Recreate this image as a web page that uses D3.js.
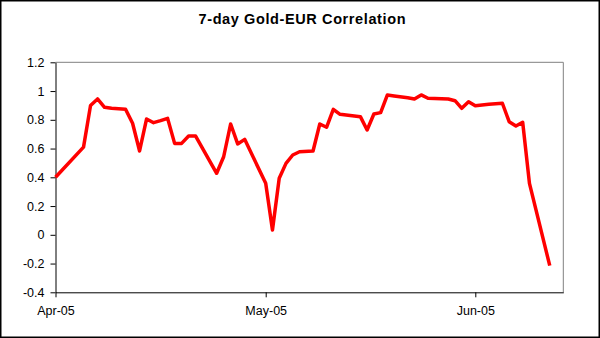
<!DOCTYPE html>
<html><head><meta charset="utf-8">
<script src="https://cdn.jsdelivr.net/npm/d3@7"></script>
<style>
html,body{margin:0;padding:0;background:#fff;}
svg{display:block;}
text{font-family:"Liberation Sans",Arial,sans-serif;}
</style></head>
<body>
<script>
const title = "7-day Gold-EUR Correlation";
const dates = ["2005-04-01","2005-04-05","2005-04-06","2005-04-07","2005-04-08","2005-04-09","2005-04-11","2005-04-12","2005-04-13","2005-04-14","2005-04-15","2005-04-16","2005-04-17","2005-04-18","2005-04-19","2005-04-20","2005-04-21","2005-04-24","2005-04-25","2005-04-26","2005-04-27","2005-04-28","2005-05-01","2005-05-02","2005-05-03","2005-05-04","2005-05-05","2005-05-06","2005-05-08","2005-05-09","2005-05-10","2005-05-11","2005-05-12","2005-05-15","2005-05-16","2005-05-17","2005-05-18","2005-05-19","2005-05-20","2005-05-22","2005-05-23","2005-05-24","2005-05-25","2005-05-28","2005-05-29","2005-05-30","2005-05-31","2005-06-01","2005-06-03","2005-06-05","2005-06-06","2005-06-07","2005-06-08","2005-06-09","2005-06-12"];
const values = [0.40,0.61,0.90,0.945,0.887,0.88,0.873,0.776,0.583,0.806,0.78,0.794,0.81,0.636,0.636,0.687,0.687,0.428,0.543,0.771,0.632,0.664,0.358,0.033,0.393,0.497,0.555,0.578,0.583,0.771,0.748,0.873,0.838,0.822,0.729,0.84,0.85,0.973,0.966,0.954,0.945,0.973,0.95,0.945,0.933,0.88,0.926,0.898,0.908,0.915,0.787,0.757,0.783,0.358,-0.215];
const yTicks = [1.2,1,0.8,0.6,0.4,0.2,0,-0.2,-0.4];
const yTickLabels = ["1.2","1","0.8","0.6","0.4","0.2","0","-0.2","-0.4"];
const xTickDates = ["2005-04-01","2005-05-01","2005-06-01"];
const xTickLabels = ["Apr-05","May-05","Jun-05"];
const xDomainDates = ["2005-04-01","2005-05-01","2005-06-01","2005-06-14"];

const W = 600, H = 338;
const m = {left:55.5, top:62.3, right:563.3, bottom:292.3};
const parse = d3.utcParse("%Y-%m-%d");
const svg = d3.select("body").append("svg").attr("width",W).attr("height",H);

svg.append("rect").attr("x",0.75).attr("y",0.75).attr("width",W-1.5).attr("height",H-1.5)
  .attr("fill","#fff").attr("stroke","#000").attr("stroke-width",1.5);

const x = d3.scaleUtc()
  .domain(xDomainDates.map(parse))
  .range([m.left, m.left + 210.2, m.left + 419.8, m.right]);
const y = d3.scaleLinear().domain([-0.4,1.2]).range([m.bottom, m.top]);

svg.append("path")
  .attr("d", `M${m.left},${m.top}H${m.right}V${m.bottom}`)
  .attr("fill","none").attr("stroke","#808080").attr("stroke-width",1);

const yAxis = d3.axisLeft(y).tickValues(yTicks).tickSize(5).tickSizeOuter(0).tickPadding(6)
  .tickFormat((d,i)=>yTickLabels[i]);
const gy = svg.append("g").attr("transform",`translate(${m.left},0)`).call(yAxis);
gy.select(".domain").attr("stroke","#000");
gy.selectAll(".tick line").attr("stroke","#000");
gy.selectAll("text").attr("font-size",12.5).attr("fill","#000")
  .attr("font-family","'Liberation Sans',Arial,sans-serif");

const xAxis = d3.axisBottom(x).tickValues(xTickDates.map(parse)).tickSize(5).tickSizeOuter(0).tickPadding(9)
  .tickFormat((d,i)=>xTickLabels[i]);
const gx = svg.append("g").attr("transform",`translate(0,${m.bottom})`).call(xAxis);
gx.select(".domain").attr("stroke","#000");
gx.selectAll(".tick line").attr("stroke","#000");
gx.selectAll("text").attr("font-size",12.5).attr("fill","#000")
  .attr("font-family","'Liberation Sans',Arial,sans-serif");

const data = dates.map((d,i)=>({d:parse(d), v:values[i]}));
svg.append("path").datum(data)
  .attr("fill","none").attr("stroke","#ff0000").attr("stroke-width",3.5)
  .attr("stroke-linejoin","round")
  .attr("d", d3.line().x(p=>x(p.d)).y(p=>y(p.v)));

svg.append("text").attr("x",302).attr("y",24).attr("text-anchor","middle")
  .attr("font-size",14.5).attr("font-weight","bold").attr("fill","#000")
  .attr("textLength",207).attr("lengthAdjust","spacing").text(title);
</script>
</body></html>
